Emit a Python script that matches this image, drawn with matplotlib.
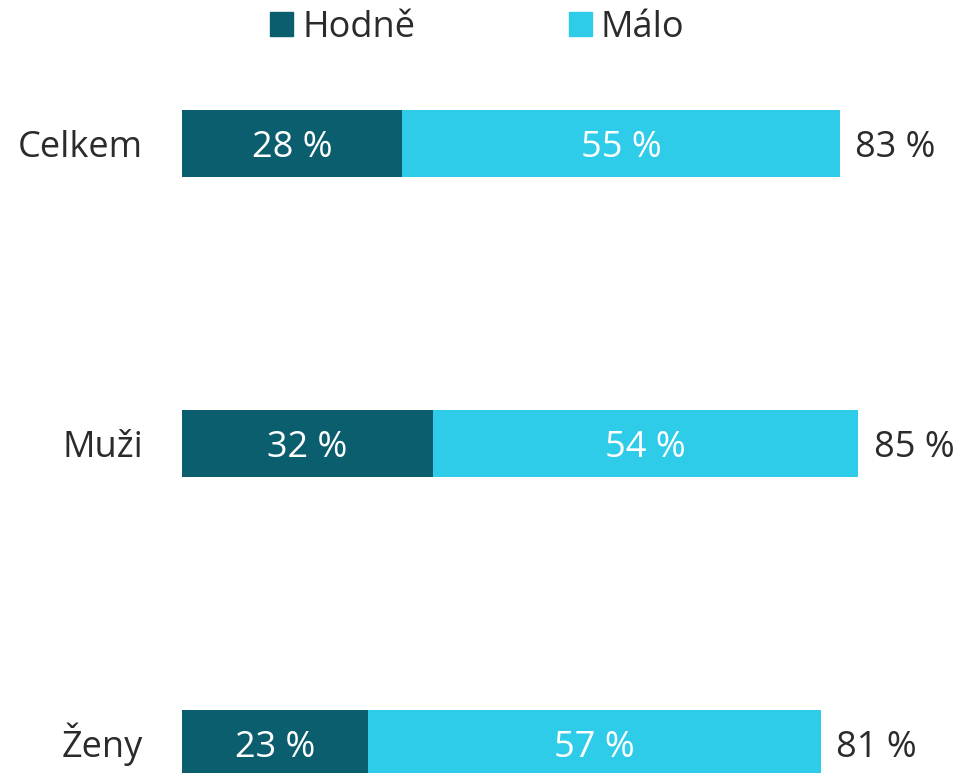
import matplotlib
matplotlib.use("Agg")
import matplotlib.pyplot as plt
from matplotlib.patches import Patch

plt.rcParams['font.family'] = ['Open Sans', 'DejaVu Sans']

categories = ["Celkem", "Muži", "Ženy"]
hodne = [27.7, 31.6, 23.4]
malo = [55.3, 53.7, 57.2]
series_names = ["Hodně", "Málo"]

DARK = "#0B5E6D"
LIGHT = "#2ECCE8"
TEXT = "#2B2B2B"


def main():
    fig = plt.figure(figsize=(9.63, 7.73), dpi=100)
    # axes spans from bar start (x=182px) to right edge, full height
    ax = fig.add_axes([182 / 963, 0, 1 - 182 / 963, 1])

    y = list(range(len(categories)))
    h = 0.223
    ax.barh(y, hodne, height=h, color=DARK)
    ax.barh(y, malo, left=hodne, height=h, color=LIGHT)

    # baseline put ~13px below bar centre so the digits sit centred
    dy = -10
    for i in y:
        a, b = hodne[i], malo[i]
        ax.annotate(categories[i], xy=(0, i), xytext=(-28, dy),
                    textcoords="offset points", ha="right", va="baseline",
                    color=TEXT, fontsize=26)
        ax.annotate(f"{a:.0f} %", xy=(a / 2, i), xytext=(0, dy),
                    textcoords="offset points", ha="center", va="baseline",
                    color="white", fontsize=26)
        ax.annotate(f"{b:.0f} %", xy=(a + b / 2, i), xytext=(0, dy),
                    textcoords="offset points", ha="center", va="baseline",
                    color="white", fontsize=26)
        ax.annotate(f"{a + b:.0f} %", xy=(a + b, i), xytext=(11, dy),
                    textcoords="offset points", ha="left", va="baseline",
                    color=TEXT, fontsize=26)

    ax.set_xlim(0, 781 / 7.93)
    ax.set_ylim(2 + 29.5 / 300, -143.5 / 300)
    ax.set_xticks([])
    ax.set_yticks([])
    for s in ax.spines.values():
        s.set_visible(False)
    ax.set_clip_on(False)

    handles = [Patch(color=DARK), Patch(color=LIGHT)]
    fig.legend(handles, series_names, loc="center left",
               bbox_to_anchor=(270 / 963, 1 - 28 / 773), ncol=2,
               frameon=False, fontsize=26, labelcolor=TEXT,
               handlelength=0.64, handleheight=0.64, handletextpad=0.25,
               columnspacing=4.25, borderpad=0, borderaxespad=0)

    fig.savefig("out.png", dpi=100)


if __name__ == "__main__":
    main()
